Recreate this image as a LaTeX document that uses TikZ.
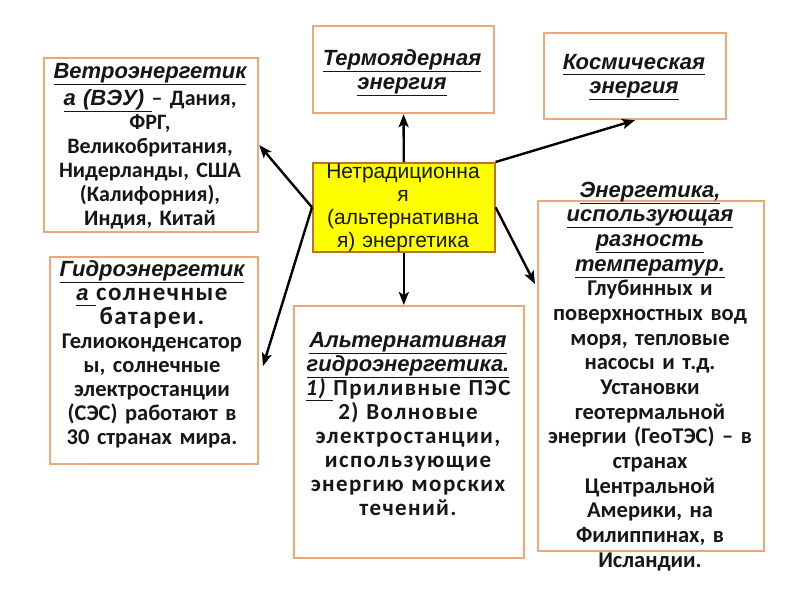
\documentclass[tikz,border=0pt]{standalone}
\usepackage{fontspec}
\setmainfont{Carlito}
\newfontfamily\arialf{Liberation Sans}
\newfontfamily\spacedf[LetterSpace=6]{Carlito}
\usetikzlibrary{arrows.meta}
\definecolor{bordc}{RGB}{236,168,118}
\definecolor{cbord}{RGB}{192,110,50}
\definecolor{ylw}{RGB}{255,255,0}
\definecolor{txt}{RGB}{22,22,22}
\newcommand{\ttl}[1]{\underline{{\arialf\bfseries\itshape\fontsize{22}{24}\selectfont #1}\vphantom{ру}}}
\begin{document}
\begin{tikzpicture}[x=1pt,y=-1pt,
  box/.style={draw=bordc, line width=2.2pt, fill=white, inner sep=0pt, anchor=north west},
  cbox/.style={draw=cbord, line width=1.6pt, fill=ylw, inner sep=0pt, anchor=north west},
  body/.style={text=txt, align=center, inner sep=0pt, anchor=base, font=\bfseries\fontsize{22}{24}\selectfont},
  arr/.style={draw=black, line width=2.4pt, -{Stealth[length=13pt,width=10pt,inset=3pt]}}]
\fill[white] (0,0) rectangle (800,600);
\useasboundingbox (0,0) rectangle (800,600);
% boxes
\node[box, minimum width=214pt, minimum height=174pt] (wind) at (43,57) {};
\node[box, minimum width=181pt, minimum height=87pt] (termo) at (312,25) {};
\node[box, minimum width=182pt, minimum height=86pt] (kosmos) at (543,32) {};
\node[cbox, minimum width=182pt, minimum height=89pt] (center) at (312,162) {};
\node[box, minimum width=208pt, minimum height=207pt] (hydro) at (49,256) {};
\node[box, minimum width=230pt, minimum height=252pt] (alt) at (293,305) {};
\node[box, minimum width=226pt, minimum height=350pt] (temp) at (537,200) {};
% texts
\node[body, text width=212pt] (windt) at (150,78) {\ttl{Ветроэнергетик}\\[3pt]
\ttl{а (ВЭУ) }– Дания,\\ФРГ,\\Великобритания,\\Нидерланды, США\\(Калифорния),\\Индия, Китай};
\node[body, text width=180pt] (termot) at (402,65) {\ttl{Термоядерная}\\\ttl{энергия}};
\node[body, text width=180pt] (kosmost) at (634,69) {\ttl{Космическая}\\\ttl{энергия}};
\node[body, text width=180pt, font=\arialf\fontsize{21}{23}\selectfont] (centert) at (403,178) {Нетрадиционна\\я\\(альтернативна\\я) энергетика};
\node[body, text width=206pt, font=\bfseries\fontsize{22.5}{24}\selectfont] (hydrot) at (152,276) {\ttl{Гидроэнергетик}\\
\ttl{а }{\spacedf\bfseries\fontsize{25}{26}\selectfont солнечные}\\{\spacedf\bfseries\fontsize{25}{26}\selectfont батареи.}\\Гелиоконденсатор\\ы, солнечные\\электростанции\\(СЭС) работают в\\30 странах мира.};
\node[body, text width=228pt, font=\spacedf\bfseries\fontsize{23}{24}\selectfont] (altt) at (408,347) {\ttl{Альтернативная}\\\ttl{гидроэнергетика.}\\
\underline{\itshape 1) }Приливные ПЭС\\2) Волновые\\электростанции,\\использующие\\энергию морских\\течений.};
\node[body, text width=224pt, font=\bfseries\fontsize{22.5}{24.67}\selectfont] (tempt) at (650,197) {\ttl{Энергетика,}\\\ttl{использующая}\\\ttl{разность}\\\ttl{температур.}\\
Глубинных и\\поверхностных вод\\моря, тепловые\\насосы и т.д.\\Установки\\геотермальной\\энергии (ГеоТЭС) – в\\странах\\Центральной\\Америки, на\\Филиппинах, в\\Исландии.};
% arrows
\coordinate (hydrotip) at (263,366);
\coordinate (temptip) at (535,284);
\draw[arr] (center.west) -- (wind.east);
\draw[arr] (center.west) -- (hydrotip);
\draw[arr] (center.north) -- (termo.south);
\draw[arr] (center.south) -- (center.south |- alt.north);
\draw[arr] (center.north east) -- (kosmos.south);
\draw[arr] (center.east) -- (temptip);
\end{tikzpicture}
\end{document}
